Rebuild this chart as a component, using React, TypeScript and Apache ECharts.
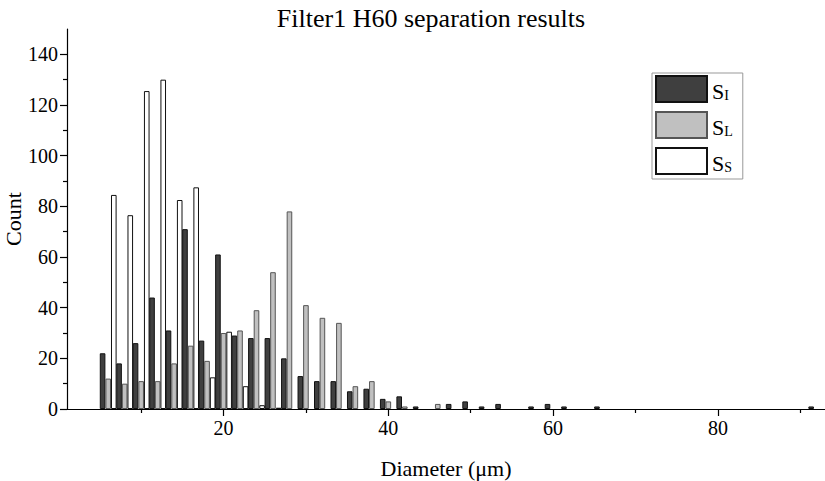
import React, { useEffect, useRef } from "react";
import * as echarts from "echarts";

const seriesNames = ["S_I", "S_L", "S_S"];

const sIx = [6, 8, 10, 12, 14, 16, 18, 20, 22, 24, 26, 28, 30, 32, 34, 36, 38, 40, 42, 44, 48, 50, 52, 54, 58, 60, 62, 66, 92];
const sIy = [22, 18, 26, 44, 31, 71, 27, 61, 29, 28, 28, 20, 13, 11, 11, 7, 8, 4, 5, 1, 2, 3, 1, 2, 1, 2, 1, 1, 1];

const sLx = [6, 8, 10, 12, 14, 16, 18, 20, 22, 24, 26, 28, 30, 32, 34, 36, 38, 40, 42, 46];
const sLy = [12, 10, 11, 11, 18, 25, 19, 30, 31, 39, 54, 78, 41, 36, 34, 9, 11, 3, 1, 2];

const sSx = [6, 8, 10, 12, 14, 16, 18, 20, 22, 24, 26];
const sSy = [84.5, 76.5, 125.5, 130, 82.5, 87.5, 12.5, 30.5, 9, 1.5, 0.5];

const xMajorTicks = [20, 40, 60, 80];
const xMinorTicks = [10, 30, 50, 70, 90];
const yMajorTicks = [0, 20, 40, 60, 80, 100, 120, 140];
const yMinorTicks = [10, 30, 50, 70, 90, 110, 130];

const FONT = "Liberation Serif";

const zip = (xs: number[], ys: number[]) => xs.map((x, i) => [x, ys[i]]);

export default function App() {
  const ref = useRef<HTMLDivElement>(null);
  useEffect(() => {
    document.body.style.margin = "0";
    if (!ref.current) return;
    const chart = echarts.init(ref.current, null, { renderer: "svg" });
    const subs: Record<string, string> = { S_I: "I", S_L: "L", S_S: "S" };
    const styles = [
      { color: "#3f3f3f", borderColor: "#111", borderWidth: 1 },
      { color: "#c0c0c0", borderColor: "#555", borderWidth: 1 },
      { color: "#ffffff", borderColor: "#111", borderWidth: 1 },
    ];
    const datas = [zip(sIx, sIy), zip(sLx, sLy), zip(sSx, sSy)];
    const lineStyle = { color: "#000", width: 1.2 };
    const xBase = {
      type: "value",
      min: 1,
      max: 93,
      splitLine: { show: false },
    };
    const yBase = {
      type: "value",
      min: 0,
      max: 150,
      splitLine: { show: false },
    };
    chart.setOption({
      animation: false,
      backgroundColor: "#fff",
      textStyle: { fontFamily: FONT, color: "#000" },
      title: {
        text: "Filter1 H60 separation results",
        left: 426,
        textAlign: "center",
        top: 0,
        textStyle: { fontFamily: FONT, fontWeight: "normal", fontSize: 26, color: "#000" },
      },
      legend: {
        orient: "vertical",
        left: 652,
        top: 73,
        itemWidth: 51,
        itemHeight: 26,
        itemGap: 8,
        icon: "rect",
        borderColor: "#999",
        borderWidth: 1,
        padding: [2, 10, 4, 3],
        data: seriesNames,
        formatter: (n: string) => `{s|S}{sub|${subs[n]}}`,
        textStyle: {
          fontFamily: FONT,
          color: "#000",
          rich: {
            s: { fontSize: 22, fontFamily: FONT, color: "#000", lineHeight: 26, verticalAlign: "bottom" },
            sub: { fontSize: 14, fontFamily: FONT, color: "#000", lineHeight: 20, verticalAlign: "bottom", padding: [9, 0, 0, 0] },
          },
        },
      },
      grid: { left: 67, right: 0, top: 29, bottom: 72, containLabel: false, outerBoundsMode: "none" },
      xAxis: [
        {
          ...xBase,
          name: "Diameter (μm)",
          nameLocation: "middle",
          nameGap: 48,
          nameMoveOverlap: false,
          nameTextStyle: { fontFamily: FONT, fontSize: 22, color: "#000" },
          axisLine: { show: true, onZero: false, lineStyle },
          axisTick: { show: true, customValues: xMajorTicks, length: 7, lineStyle },
          axisLabel: { customValues: xMajorTicks, fontFamily: FONT, fontSize: 20, color: "#000", margin: 9 },
        },
        {
          ...xBase,
          position: "bottom",
          axisLine: { show: false },
          axisTick: { show: true, customValues: xMinorTicks, length: 4, lineStyle },
          axisLabel: { show: false },
        },
      ],
      yAxis: [
        {
          ...yBase,
          name: "Count",
          nameLocation: "middle",
          nameGap: 43,
          nameMoveOverlap: false,
          nameTextStyle: { fontFamily: FONT, fontSize: 22, color: "#000" },
          axisLine: { show: true, onZero: false, lineStyle },
          axisTick: { show: true, customValues: yMajorTicks, length: 7, lineStyle },
          axisLabel: { customValues: yMajorTicks, fontFamily: FONT, fontSize: 20, color: "#000", margin: 9 },
        },
        {
          ...yBase,
          position: "left",
          axisLine: { show: false },
          axisTick: { show: true, customValues: yMinorTicks, length: 4, lineStyle },
          axisLabel: { show: false },
        },
      ],
      series: seriesNames.map((name, i) => ({
        name,
        type: "bar",
        xAxisIndex: 0,
        yAxisIndex: 0,
        barWidth: 5.6,
        barGap: "0%",
        data: datas[i],
        itemStyle: styles[i],
      })),
    });
    return () => chart.dispose();
  }, []);
  return <div ref={ref} style={{ width: 825, height: 481 }} />;
}
